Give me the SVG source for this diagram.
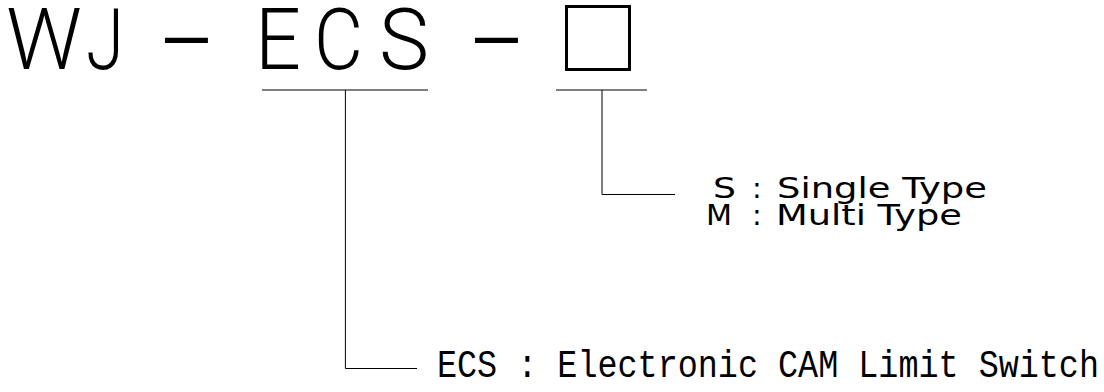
<svg xmlns="http://www.w3.org/2000/svg" width="1104" height="392" viewBox="0 0 1104 392">
<style>
.title{font-family:Roboto,"Liberation Sans",Arial,sans-serif;font-weight:300;font-size:86px;fill:#000}
.dash{font-family:"Liberation Sans",Arial,sans-serif;font-size:80px;fill:#000}
.lbl{font-family:"DejaVu Sans","Liberation Sans",sans-serif;font-size:29px;fill:#000}
.mono{font-family:"Liberation Mono","DejaVu Sans Mono",monospace;font-size:38px;fill:#000}
.ln{stroke:#000;stroke-width:1;fill:none}
</style>
<rect width="1104" height="392" fill="#fff"/>
<g id="code">
<text class="title" x="6" y="69" textLength="76" lengthAdjust="spacingAndGlyphs">W</text>
<text class="title" x="86" y="69" textLength="38" lengthAdjust="spacingAndGlyphs">J</text>
<text class="dash" x="165" y="61" textLength="43" lengthAdjust="spacingAndGlyphs">–</text>
<text class="title" x="255" y="69" textLength="46" lengthAdjust="spacingAndGlyphs">E</text>
<text class="title" x="314" y="69" textLength="49" lengthAdjust="spacingAndGlyphs">C</text>
<text class="title" x="379" y="69" textLength="50" lengthAdjust="spacingAndGlyphs">S</text>
<text class="dash" x="475" y="61" textLength="43" lengthAdjust="spacingAndGlyphs">–</text>
<rect x="566.5" y="6.5" width="63" height="63" fill="none" stroke="#000" stroke-width="3"/>
</g>
<g id="connectors">
<line class="ln" x1="262" y1="90" x2="428" y2="90"/>
<polyline class="ln" points="345.4,90 345.4,368.5 417,368.5"/>
<line class="ln" x1="556" y1="90" x2="647" y2="90"/>
<polyline class="ln" points="602,90 602,194.5 675,194.5"/>
</g>
<g id="type-label">
<text class="lbl" x="713" y="198" textLength="23" lengthAdjust="spacingAndGlyphs">S</text>
<text class="lbl" x="752" y="198">:</text>
<text class="lbl" x="777" y="198" textLength="210" lengthAdjust="spacingAndGlyphs">Single Type</text>
<text class="lbl" x="706" y="225" textLength="26" lengthAdjust="spacingAndGlyphs">M</text>
<text class="lbl" x="752" y="225">:</text>
<text class="lbl" x="776" y="225" textLength="186" lengthAdjust="spacingAndGlyphs">Multi Type</text>
</g>
<g id="ecs-label">
<text class="mono" x="437" y="377" textLength="662" lengthAdjust="spacingAndGlyphs">ECS : Electronic CAM Limit Switch</text>
</g>
</svg>
